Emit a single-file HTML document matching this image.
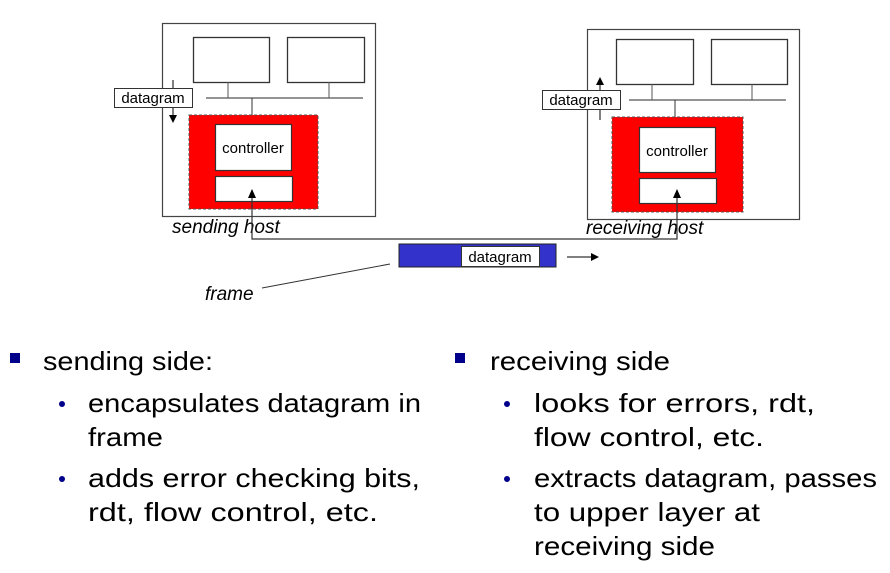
<!DOCTYPE html>
<html><head><meta charset="utf-8"><style>
html,body{margin:0;padding:0;background:#fff;}
svg{display:block;}
.d{font-family:"Liberation Sans",sans-serif;font-size:15px;fill:#000;}
.i{font-family:"Liberation Sans",sans-serif;font-size:19px;font-style:italic;fill:#000;}
.b{font-family:"Liberation Sans",sans-serif;font-size:26px;fill:#000;}
</style></head><body>
<svg width="890" height="573" viewBox="0 0 890 573" xmlns="http://www.w3.org/2000/svg">
<defs><marker id="a" markerWidth="8" markerHeight="8" refX="7" refY="4" orient="auto" markerUnits="userSpaceOnUse"><path d="M0,0 L8,4 L0,8z" fill="#000"/></marker></defs>
<!-- sending host -->
<rect x="162.5" y="23.5" width="213" height="193" fill="#fff" stroke="#444" stroke-width="1.2"/>
<rect x="193.5" y="37.5" width="76" height="45" fill="#fff" stroke="#333" stroke-width="1.3"/>
<rect x="287.5" y="37.5" width="77" height="45" fill="#fff" stroke="#333" stroke-width="1.3"/>
<line x1="206" y1="98" x2="363" y2="98" stroke="#555" stroke-width="1.3"/>
<line x1="228" y1="82" x2="228" y2="98" stroke="#555"/><line x1="329" y1="82" x2="329" y2="98" stroke="#555"/>
<line x1="252" y1="98" x2="252" y2="116" stroke="#333"/>
<rect x="189" y="115" width="129" height="94" fill="#f00" stroke="#555" stroke-dasharray="3,2"/>
<rect x="215.5" y="124.5" width="76" height="46" fill="#fff" stroke="#333" stroke-width="1.2"/>
<text x="253" y="153" class="d" text-anchor="middle">controller</text>
<rect x="215.5" y="176.5" width="77" height="25" fill="#fff" stroke="#333" stroke-width="1.2"/>
<line x1="173" y1="80" x2="173" y2="122" stroke="#000" marker-end="url(#a)"/>
<rect x="114.5" y="88.5" width="78" height="19" fill="#fff" stroke="#333"/>
<text x="153" y="103" class="d" text-anchor="middle">datagram</text>
<text x="172" y="233" class="i">sending host</text>
<!-- receiving host -->
<rect x="587.5" y="29.5" width="212" height="190" fill="#fff" stroke="#444" stroke-width="1.2"/>
<rect x="616.5" y="39.5" width="77" height="45" fill="#fff" stroke="#333" stroke-width="1.3"/>
<rect x="711.5" y="39.5" width="76" height="45" fill="#fff" stroke="#333" stroke-width="1.3"/>
<line x1="629" y1="100" x2="786" y2="100" stroke="#555" stroke-width="1.3"/>
<line x1="652" y1="84" x2="652" y2="100" stroke="#555"/><line x1="752" y1="84" x2="752" y2="100" stroke="#555"/>
<line x1="675" y1="100" x2="675" y2="118" stroke="#333"/>
<rect x="612" y="117" width="131" height="95" fill="#f00" stroke="#555" stroke-dasharray="3,2"/>
<rect x="639.5" y="127.5" width="76" height="45" fill="#fff" stroke="#333" stroke-width="1.2"/>
<text x="677" y="156" class="d" text-anchor="middle">controller</text>
<rect x="639.5" y="178.5" width="77" height="25" fill="#fff" stroke="#333" stroke-width="1.2"/>
<line x1="600" y1="120" x2="600" y2="78" stroke="#000" marker-end="url(#a)"/>
<rect x="542.5" y="90.5" width="78" height="19" fill="#fff" stroke="#333"/>
<text x="581" y="105" class="d" text-anchor="middle">datagram</text>
<text x="586" y="234" class="i">receiving host</text>
<!-- link -->
<polyline points="252,190 252,239 677,239 677,190" fill="none" stroke="#333" stroke-width="1.2"/>
<path d="M248,198 L252,189 L256,198z M673,198 L677,189 L681,198z" fill="#000"/>
<rect x="399" y="244" width="157" height="23" fill="#3333cc" stroke="#222"/>
<rect x="461.5" y="246.5" width="78" height="20" fill="#fff" stroke="#333"/>
<text x="500" y="262" class="d" text-anchor="middle">datagram</text>
<line x1="567" y1="257" x2="598" y2="257" stroke="#000" marker-end="url(#a)"/>
<line x1="262" y1="288" x2="390" y2="264" stroke="#333"/>
<text x="205" y="300" class="i">frame</text>
<!-- bullets -->
<rect x="10" y="353" width="10" height="10" fill="#00008b"/>
<rect x="455" y="353" width="10" height="10" fill="#00008b"/>
<circle cx="62" cy="404" r="3" fill="#00008b"/><circle cx="62" cy="479" r="3" fill="#00008b"/>
<circle cx="507" cy="404" r="3" fill="#00008b"/><circle cx="507" cy="479" r="3" fill="#00008b"/>
<text x="43" y="370" class="b" textLength="170" lengthAdjust="spacingAndGlyphs">sending side:</text>
<text x="88" y="412" class="b" textLength="333" lengthAdjust="spacingAndGlyphs">encapsulates datagram in</text>
<text x="88" y="446" class="b" textLength="75" lengthAdjust="spacingAndGlyphs">frame</text>
<text x="88" y="487" class="b" textLength="332" lengthAdjust="spacingAndGlyphs">adds error checking bits,</text>
<text x="88" y="521" class="b" textLength="290" lengthAdjust="spacingAndGlyphs">rdt, flow control, etc.</text>
<text x="490" y="370" class="b" textLength="180" lengthAdjust="spacingAndGlyphs">receiving side</text>
<text x="534" y="412" class="b" textLength="281" lengthAdjust="spacingAndGlyphs">looks for errors, rdt,</text>
<text x="534" y="446" class="b" textLength="230" lengthAdjust="spacingAndGlyphs">flow control, etc.</text>
<text x="534" y="487" class="b" textLength="343" lengthAdjust="spacingAndGlyphs">extracts datagram, passes</text>
<text x="534" y="521" class="b" textLength="226" lengthAdjust="spacingAndGlyphs">to upper layer at</text>
<text x="534" y="555" class="b" textLength="181" lengthAdjust="spacingAndGlyphs">receiving side</text>
</svg>
</body></html>
